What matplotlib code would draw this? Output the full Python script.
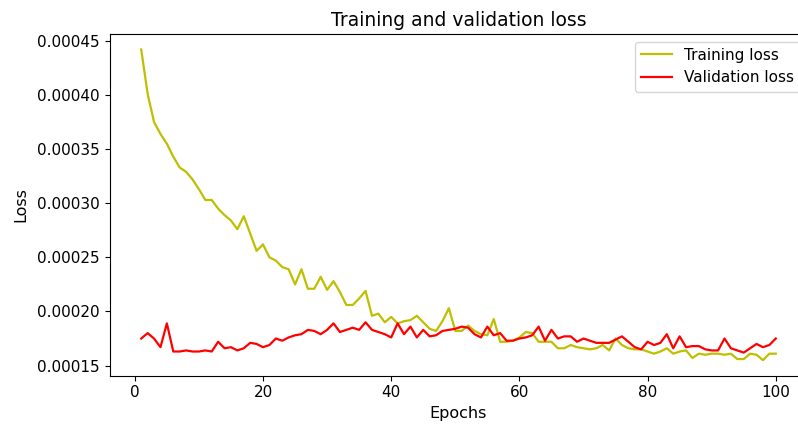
import matplotlib
matplotlib.use("Agg")
import matplotlib.pyplot as plt

# Verlustwerte pro Epoche
epochs = list(range(1, 101))

train_loss = [
    0.000442, 0.000401, 0.000375, 0.000364, 0.000355, 0.000343, 0.000333, 0.000329, 0.000322, 0.000313,
    0.000303, 0.000303, 0.000295, 0.000289, 0.000284, 0.000276, 0.000288, 0.000272, 0.000256, 0.000262,
    0.000250, 0.000247, 0.000241, 0.000239, 0.000225, 0.000239, 0.000221, 0.000221, 0.000232, 0.000220,
    0.000228, 0.000218, 0.000206, 0.000206, 0.000212, 0.000219, 0.000196, 0.000198, 0.000190, 0.000195,
    0.000189, 0.000191, 0.000192, 0.000196, 0.000190, 0.000184, 0.000182, 0.000191, 0.000203, 0.000182,
    0.000182, 0.000187, 0.000182, 0.000179, 0.000178, 0.000193, 0.000172, 0.000172, 0.000173, 0.000176,
    0.000181, 0.000180, 0.000172, 0.000172, 0.000172, 0.000166, 0.000166, 0.000169, 0.000167, 0.000166,
    0.000165, 0.000166, 0.000169, 0.000164, 0.000175, 0.000169, 0.000166, 0.000165, 0.000165, 0.000163,
    0.000161, 0.000163, 0.000166, 0.000161, 0.000163, 0.000164, 0.000157, 0.000161, 0.000160, 0.000161,
    0.000161, 0.000160, 0.000161, 0.000156, 0.000156, 0.000161, 0.000160, 0.000155, 0.000161, 0.000161,
]

val_loss = [
    0.000175, 0.000180, 0.000175, 0.000167, 0.000189, 0.000163, 0.000163, 0.000164, 0.000163, 0.000163,
    0.000164, 0.000163, 0.000172, 0.000166, 0.000167, 0.000164, 0.000166, 0.000171, 0.000170, 0.000167,
    0.000169, 0.000175, 0.000173, 0.000176, 0.000178, 0.000179, 0.000183, 0.000182, 0.000179, 0.000183,
    0.000189, 0.000181, 0.000183, 0.000185, 0.000183, 0.000190, 0.000183, 0.000181, 0.000179, 0.000176,
    0.000189, 0.000179, 0.000186, 0.000176, 0.000183, 0.000177, 0.000178, 0.000182, 0.000183, 0.000184,
    0.000186, 0.000185, 0.000179, 0.000176, 0.000186, 0.000178, 0.000180, 0.000173, 0.000173, 0.000175,
    0.000176, 0.000178, 0.000186, 0.000173, 0.000183, 0.000175, 0.000177, 0.000177, 0.000172, 0.000175,
    0.000173, 0.000171, 0.000171, 0.000171, 0.000174, 0.000177, 0.000172, 0.000167, 0.000165, 0.000172,
    0.000169, 0.000171, 0.000179, 0.000166, 0.000177, 0.000167, 0.000168, 0.000168, 0.000165, 0.000164,
    0.000164, 0.000175, 0.000166, 0.000164, 0.000162, 0.000166, 0.000170, 0.000167, 0.000169, 0.000175,
]

plt.rcParams['font.size'] = 11

fig = plt.figure(figsize=(7.98, 4.26), dpi=100)
# Achse ragt rechts leicht über den Bildrand hinaus (wie im Original abgeschnitten)
ax = fig.add_axes([109.5 / 798, 1 - 375.7 / 426, 698 / 798, (375.7 - 34) / 426])

ax.plot(epochs, train_loss, 'y', linewidth=1.6, label='Training loss')
ax.plot(epochs, val_loss, 'r', linewidth=1.6, label='Validation loss')
ax.set_title('Training and validation loss', fontsize=13.5)
ax.set_xlabel('Epochs', fontsize=11.5)
ax.set_ylabel('Loss', fontsize=11.5, labelpad=6)
ax.set_yticks([0.00015, 0.00020, 0.00025, 0.00030, 0.00035, 0.00040, 0.00045])
ax.set_yticklabels(['0.00015', '0.00020', '0.00025', '0.00030', '0.00035', '0.00040', '0.00045'])
ax.legend(loc='upper right')

fig.savefig('out.png', dpi=100)
